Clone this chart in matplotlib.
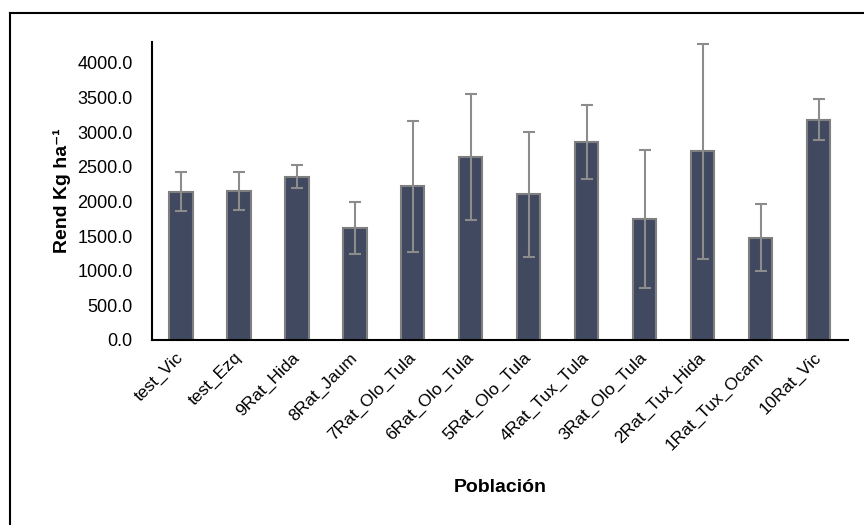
import numpy as np
import matplotlib
matplotlib.use('Agg')
import matplotlib.pyplot as plt
from matplotlib.lines import Line2D

plt.rcParams['font.family'] = ['Liberation Sans', 'DejaVu Sans']

# Datos
poblaciones = ['test_Vic', 'test_Ezq', '9Rat_Hida', '8Rat_Jaum', '7Rat_Olo_Tula', '6Rat_Olo_Tula',
               '5Rat_Olo_Tula', '4Rat_Tux_Tula', '3Rat_Olo_Tula', '2Rat_Tux_Hida', '1Rat_Tux_Ocam', '10Rat_Vic']
rendimiento = [2140, 2150, 2358, 1615, 2220, 2638, 2100, 2857, 1745, 2720, 1477, 3181]
error = [280, 275, 168, 380, 945, 910, 905, 527, 1000, 1545, 480, 295]
yticks = [0, 500, 1000, 1500, 2000, 2500, 3000, 3500, 4000]

fig = plt.figure(figsize=(8.64, 5.25), dpi=100)
ax = fig.add_axes([0.176, 0.3524, 0.805, 0.5676])

x = np.arange(len(poblaciones))
ax.bar(x, rendimiento, width=0.4, color='#404960', edgecolor='#7f7f7f', linewidth=1.5, zorder=2)
ax.errorbar(x, rendimiento, yerr=error, fmt='none', ecolor='#8c8c8c', elinewidth=1.5,
            capsize=4.5, capthick=1.5, zorder=3)

ax.set_xlim(-0.5, len(poblaciones) - 0.5)
ax.set_ylim(0, 4300)
ax.set_yticks(yticks)
ax.set_yticklabels([f'{v:.1f}' for v in yticks], fontsize=13)
ax.set_xticks(x)
ax.set_xticklabels(poblaciones, rotation=45, ha='right', va='center', rotation_mode='anchor', fontsize=12.5)
ax.tick_params(axis='y', length=0, pad=14)
ax.tick_params(axis='x', length=0, pad=11)

for s in ['top', 'right']:
    ax.spines[s].set_visible(False)
ax.spines['left'].set_linewidth(1.5)
ax.spines['bottom'].set_linewidth(1.5)

ax.set_ylabel('Rend Kg ha⁻¹', fontsize=14, fontweight='bold')
ax.yaxis.set_label_coords(-0.117, 0.5)
fig.text(0.579, 1 - 488 / 525, 'Población', fontsize=14, fontweight='bold', ha='center', va='center')

# Marco del gráfico
fig.add_artist(Line2D([10 / 864, 10 / 864], [0, 1 - 13 / 525], color='black', linewidth=1.5, transform=fig.transFigure))
fig.add_artist(Line2D([10 / 864, 1], [1 - 13 / 525, 1 - 13 / 525], color='black', linewidth=1.5, transform=fig.transFigure))

fig.savefig('out.png', dpi=100)
